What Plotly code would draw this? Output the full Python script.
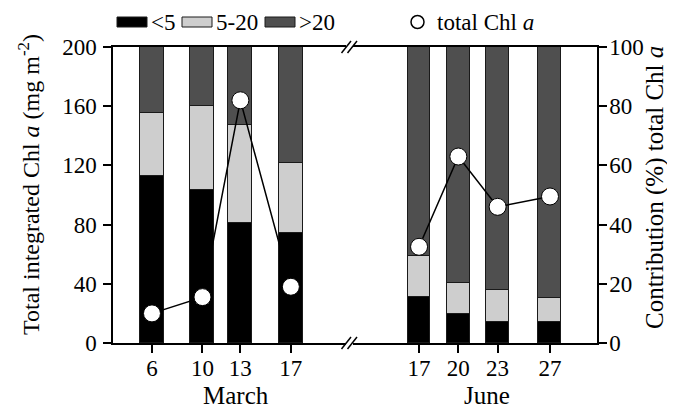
import plotly.graph_objects as go

# ---------------- data ----------------
march_days = [6, 10, 13, 17]
june_days = [17, 20, 23, 27]

# size-fraction contribution (% of total Chl a)
march_lt5 = [56.4, 51.7, 40.6, 37.3]
march_5_20 = [21.3, 28.3, 32.9, 23.4]
march_gt20 = [22.3, 20.0, 26.5, 39.3]
june_lt5 = [15.6, 9.7, 7.2, 7.0]
june_5_20 = [13.9, 10.7, 10.7, 8.1]
june_gt20 = [70.5, 79.6, 82.1, 84.9]

# total integrated Chl a (mg m-2)
march_total = [20, 31, 164, 38]
june_total = [65, 126, 92, 99]

left_ticks = [0, 40, 80, 120, 160, 200]
right_ticks = [0, 20, 40, 60, 80, 100]

# ---------------- styling ----------------
FONT = "Liberation Serif"
C_LT5 = "#000000"
C_5_20 = "#cecece"
C_GT20 = "#4f4f4f"
C_EDGE = "#1a1a1a"

OFF = 8  # page body margin
W, H = 675 - OFF, 408 - OFF
ML, MR, MT, MB = 113 - OFF, 78, 47 - OFF, 65
PW, PH = W - ML - MR, H - MT - MB


def px(x):  # screen x -> paper
    return (x - OFF - ML) / PW


def py(y):  # screen y -> paper
    return (H + OFF - MB - y) / PH


fig = go.Figure()

for days, xa, vals_list, width in [
    (march_days, "x", (march_lt5, march_5_20, march_gt20), 1.9),
    (june_days, "x2", (june_lt5, june_5_20, june_gt20), 1.75),
]:
    for vals, col, name in zip(vals_list, (C_LT5, C_5_20, C_GT20), ("<5", "5-20", ">20")):
        fig.add_trace(go.Bar(
            x=days, y=vals, xaxis=xa, yaxis="y", width=width, name=name,
            marker=dict(color=col, line=dict(color=C_EDGE, width=1)),
            showlegend=False,
        ))

for days, xa, tot in [(march_days, "x", march_total), (june_days, "x2", june_total)]:
    fig.add_trace(go.Scatter(
        x=days, y=tot, xaxis=xa, yaxis="y2", mode="lines+markers",
        line=dict(color="black", width=1.5),
        marker=dict(symbol="circle", size=17, color="white", line=dict(color="black", width=1)),
        showlegend=False, name="total Chl a",
    ))

axis_common = dict(
    showline=True, linecolor="black", linewidth=1.5,
    ticks="outside", ticklen=8, tickwidth=1.5, tickcolor="black",
    showgrid=False, zeroline=False, automargin=False,
    tickfont=dict(family=FONT, size=23, color="black"),
)

fig.update_layout(
    width=W, height=H,
    margin=dict(l=ML, r=MR, t=MT, b=MB, autoexpand=False),
    plot_bgcolor="white", paper_bgcolor="white",
    barmode="stack", bargap=0,
    font=dict(family=FONT, size=23, color="black"),
    xaxis=dict(domain=[0, 0.481], range=[2.914, 21.35], anchor="y",
               tickmode="array", tickvals=march_days, ticktext=[str(d) for d in march_days],
               mirror=True, ticklabelstandoff=-4, **axis_common),
    xaxis2=dict(domain=[0.496, 1], range=[11.96, 30.59], anchor="y",
                tickmode="array", tickvals=june_days, ticktext=[str(d) for d in june_days],
                mirror=True, ticklabelstandoff=-4, **axis_common),
    yaxis=dict(range=[0, 100], side="right", anchor="x2",
               tickmode="array", tickvals=right_ticks, ticklabelstandoff=-2, **axis_common),
    yaxis2=dict(range=[0, 200], side="left", anchor="x", overlaying="y",
                tickmode="array", tickvals=left_ticks, ticklabelstandoff=2, **axis_common),
)

# axis-break marks
shapes = []
for ybase in (47, 343):
    for x0 in (341.5, 347.5):
        shapes.append(dict(type="line", xref="paper", yref="paper",
                           x0=px(x0), y0=py(ybase + 6), x1=px(x0 + 9.5), y1=py(ybase - 6),
                           line=dict(color="black", width=1.5)))

annotations = []


# axis titles
def title_ann(text, x, y, size, angle=0):
    return dict(xref="paper", yref="paper", x=px(x), y=py(y), text=text, showarrow=False,
                xanchor="center", yanchor="middle", textangle=angle,
                font=dict(family=FONT, size=size, color="black"))


annotations.append(title_ann("March", 236, 395, 25))
annotations.append(title_ann("June", 487, 395, 25))
annotations.append(title_ann("Total integrated Chl <i>a</i> (mg m<sup>-2</sup>)", 29, 185, 24, -90))
annotations.append(title_ann("Contribution (%) total Chl <i>a</i>", 655, 188, 25, -90))

# legend (drawn manually to match the wide swatches)
ly = 22
leg_items = [(117, C_LT5, "<5"), (182, C_5_20, "5-20"), (265, C_GT20, ">20")]
for x0, col, label in leg_items:
    shapes.append(dict(type="rect", xref="paper", yref="paper",
                       x0=px(x0), x1=px(x0 + 30), y0=py(ly + 5), y1=py(ly - 5),
                       fillcolor=col, line=dict(color=C_EDGE, width=1)))
    annotations.append(dict(xref="paper", yref="paper", x=px(x0 + 32), y=py(ly),
                            text=label, showarrow=False, xanchor="left", yanchor="middle",
                            font=dict(family=FONT, size=23, color="black")))
shapes.append(dict(type="circle", xref="paper", yref="paper",
                   x0=px(411), x1=px(424), y0=py(ly + 6.5), y1=py(ly - 6.5),
                   fillcolor="white", line=dict(color="black", width=1.5)))
annotations.append(dict(xref="paper", yref="paper", x=px(435), y=py(ly),
                        text="total Chl <i>a</i>", showarrow=False, xanchor="left", yanchor="middle",
                        font=dict(family=FONT, size=23, color="black")))

fig.update_layout(shapes=shapes, annotations=annotations)

fig.write_html("out.html")
